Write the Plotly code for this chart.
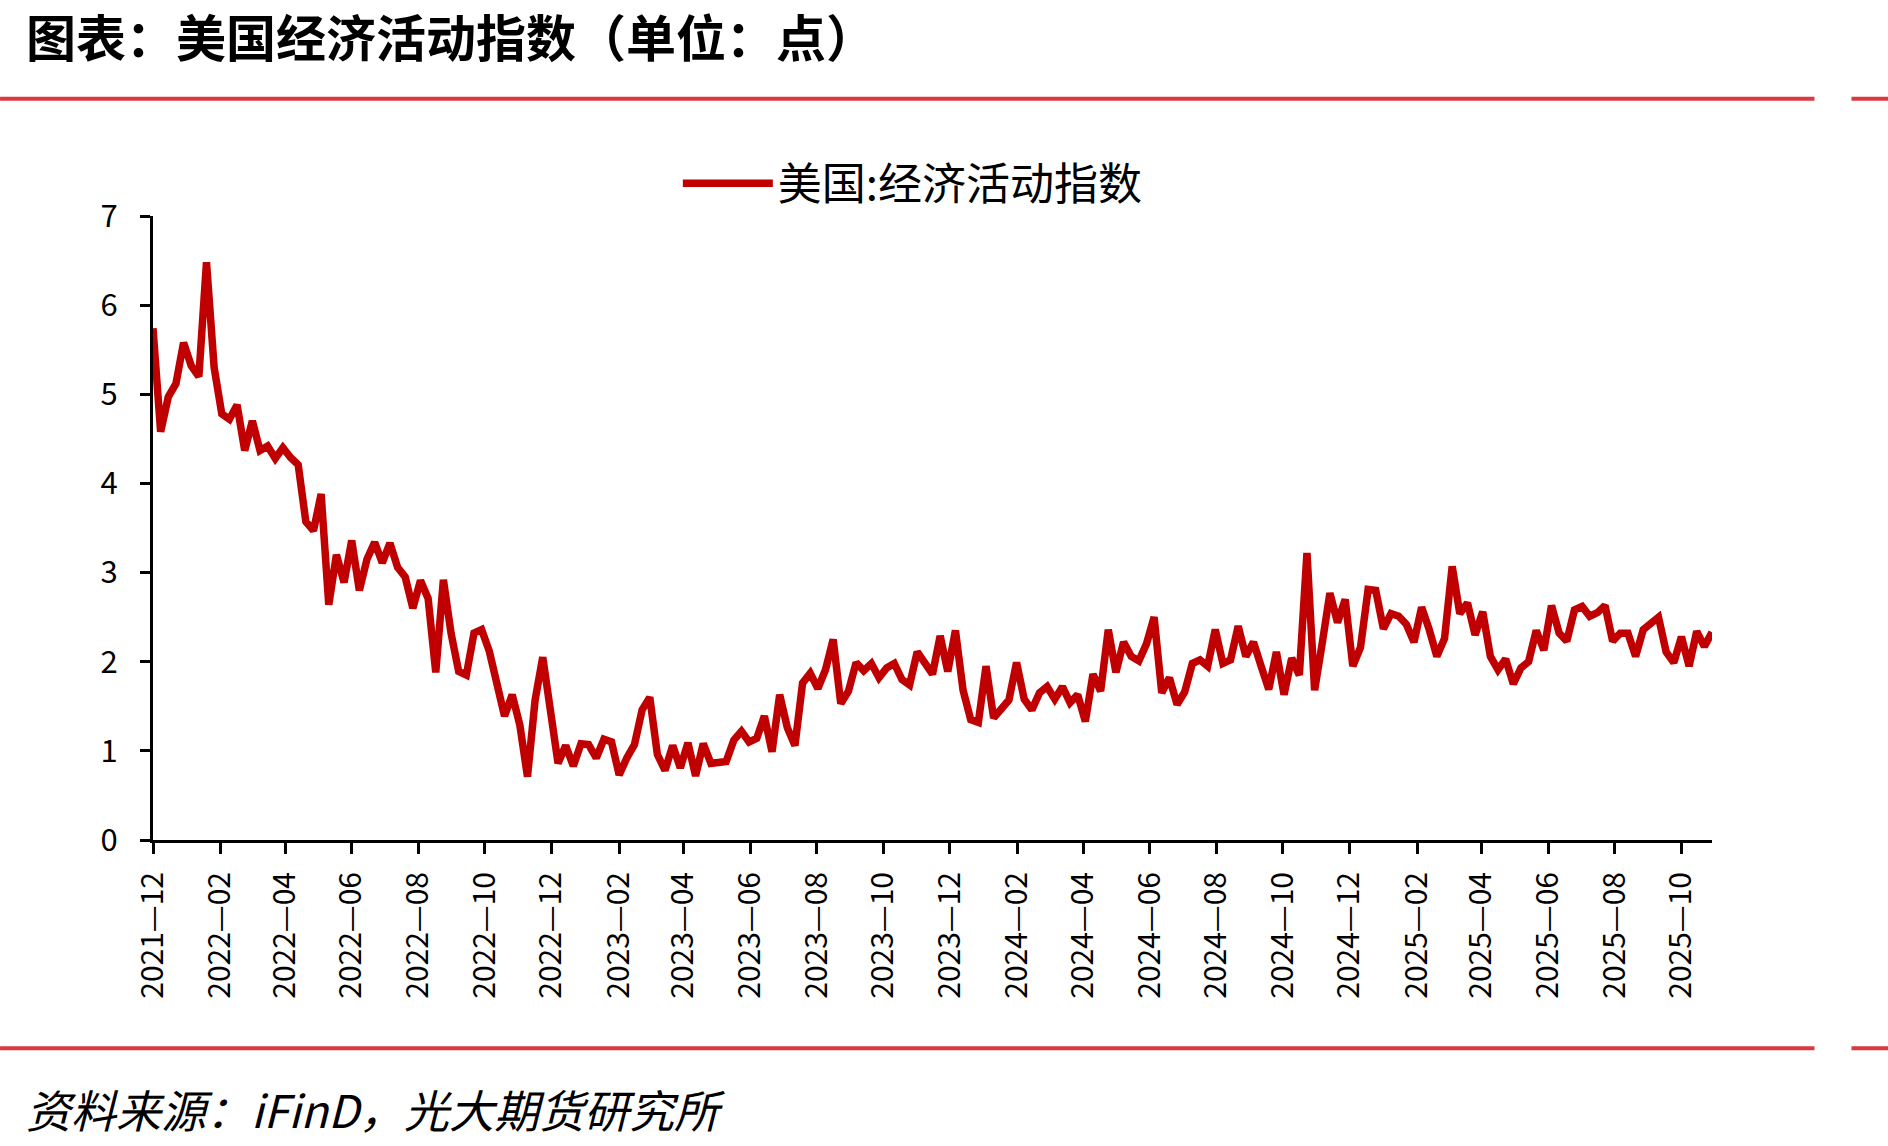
import pandas as pd
import plotly.graph_objects as go

# ---------------- data ----------------
start_date = "2021-12-01"
series_name = "美国:经济活动指数"
values = [
    5.74, 4.58, 4.97, 5.12, 5.58, 5.32, 5.20, 6.48, 5.30, 4.78,
    4.72, 4.88, 4.37, 4.70, 4.37, 4.42, 4.28, 4.40, 4.29, 4.21,
    3.57, 3.47, 3.88, 2.64, 3.20, 2.89, 3.36, 2.80, 3.15, 3.34,
    3.11, 3.33, 3.06, 2.95, 2.60, 2.91, 2.71, 1.88, 2.92, 2.32,
    1.89, 1.85, 2.32, 2.36, 2.12, 1.78, 1.39, 1.63, 1.29, 0.71,
    1.57, 2.05, 1.50, 0.86, 1.06, 0.83, 1.08, 1.07, 0.92, 1.13,
    1.10, 0.73, 0.92, 1.07, 1.46, 1.60, 0.96, 0.78, 1.06, 0.81,
    1.09, 0.72, 1.08, 0.86, 0.87, 0.88, 1.12, 1.22, 1.10, 1.14,
    1.39, 0.99, 1.63, 1.26, 1.06, 1.76, 1.87, 1.70, 1.91, 2.25,
    1.53, 1.67, 1.99, 1.90, 1.98, 1.82, 1.93, 1.98, 1.80, 1.74,
    2.11, 1.98, 1.86, 2.29, 1.89, 2.35, 1.68, 1.35, 1.32, 1.95,
    1.37, 1.47, 1.57, 1.99, 1.58, 1.46, 1.65, 1.72, 1.58, 1.72,
    1.54, 1.63, 1.33, 1.86, 1.67, 2.36, 1.88, 2.22, 2.06, 2.01,
    2.20, 2.50, 1.65, 1.82, 1.52, 1.66, 1.98, 2.02, 1.95, 2.36,
    1.98, 2.02, 2.40, 2.06, 2.22, 1.95, 1.69, 2.11, 1.63, 2.04,
    1.85, 3.22, 1.68, 2.21, 2.77, 2.44, 2.70, 1.95, 2.16, 2.81,
    2.80, 2.37, 2.54, 2.51, 2.42, 2.22, 2.61, 2.36, 2.06, 2.26,
    3.07, 2.54, 2.66, 2.30, 2.56, 2.06, 1.91, 2.03, 1.75, 1.93,
    2.00, 2.35, 2.13, 2.63, 2.32, 2.23, 2.58, 2.62, 2.51, 2.55,
    2.63, 2.23, 2.32, 2.32, 2.06, 2.36, 2.43, 2.50, 2.11, 1.99,
    2.28, 1.95, 2.34, 2.17, 2.33,
]
dates = pd.date_range(start_date, periods=len(values), freq="7D")
y_ticks = [0, 1, 2, 3, 4, 5, 6, 7]

title_text = "图表：美国经济活动指数（单位：点）"
source_text = "资料来源：iFinD，光大期货研究所"

# ---------------- layout geometry ----------------
W_PAGE, H_PAGE = 1888, 1146
L, R, T, B = 153, 1712.5, 215.5, 840.5
PW, PH = R - L, B - T


def px(x):
    return (x - L) / PW


def py(y):
    return (B - y) / PH


CJK = "Noto Sans CJK SC"
RED = "#d9393f"

fig = go.Figure()
fig.add_trace(go.Scatter(
    x=dates, y=values, mode="lines", name=series_name,
    line=dict(color="#c00000", width=7.5),
    hoverinfo="skip",
))

shapes = []
for yy in (98, 1049):
    shapes.append(dict(type="line", xref="paper", yref="paper",
                       x0=px(0), x1=px(1815), y0=py(yy), y1=py(yy),
                       line=dict(color=RED, width=4)))
    shapes.append(dict(type="line", xref="paper", yref="paper",
                       x0=px(1852), x1=px(1890), y0=py(yy), y1=py(yy),
                       line=dict(color=RED, width=4)))

annotations = [
    dict(text="<b>" + title_text + "</b>", xref="paper", yref="paper",
         x=px(24), y=py(34), xanchor="left", yanchor="middle",
         showarrow=False, font=dict(family=CJK, size=50, color="#000000")),
    dict(text="<i>" + source_text + "</i>", xref="paper", yref="paper",
         x=px(24), y=py(1109), xanchor="left", yanchor="middle",
         showarrow=False, font=dict(family=CJK, size=45, color="#000000")),
]

fig.update_layout(
    width=W_PAGE, height=H_PAGE,
    margin=dict(l=L, r=W_PAGE - R, t=T, b=H_PAGE - B, autoexpand=False),
    paper_bgcolor="white", plot_bgcolor="white",
    showlegend=True,
    legend=dict(orientation="h", x=px(678), y=py(183), xanchor="left",
                yanchor="middle", itemwidth=90,
                font=dict(family=CJK, size=44, color="#000000"),
                bgcolor="rgba(0,0,0,0)"),
    shapes=shapes,
    annotations=annotations,
    font=dict(family=CJK, color="#000000"),
)

fig.update_xaxes(
    type="date",
    range=[dates[0], dates[-1]],
    tick0=start_date, dtick="M2", tickformat="%Y—%m",
    tickangle=-90,
    showline=True, linecolor="#000000", linewidth=3,
    ticks="outside", ticklen=11, tickwidth=3, tickcolor="#000000",
    ticklabelstandoff=6,
    showgrid=False, zeroline=False,
    tickfont=dict(family=CJK, size=30, color="#000000"),
)
fig.update_yaxes(
    range=[0, 7], tickvals=y_ticks,
    showline=True, linecolor="#000000", linewidth=3,
    ticks="outside", ticklen=10, tickwidth=3, tickcolor="#000000",
    ticklabelstandoff=16,
    showgrid=False, zeroline=False,
    tickfont=dict(family=CJK, size=31, color="#000000"),
)

fig.write_html("out.html")
